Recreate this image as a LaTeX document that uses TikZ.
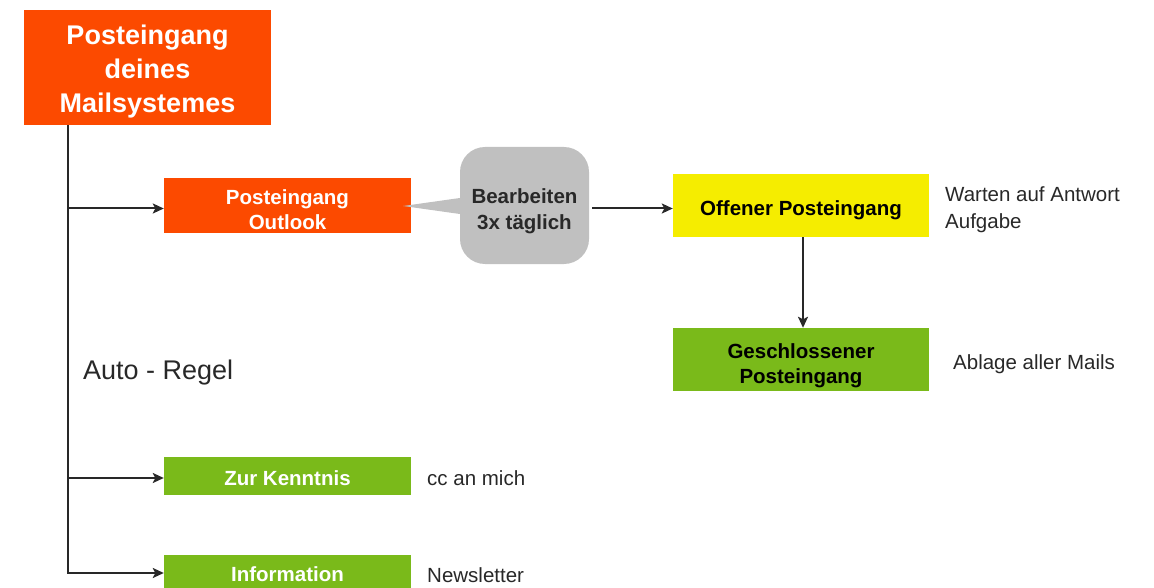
\documentclass[tikz,border=0pt]{standalone}
\usepackage{fontspec}
\setmainfont{Liberation Sans}
\usetikzlibrary{arrows.meta}

\definecolor{mailorange}{RGB}{252,74,0}
\definecolor{mailyellow}{RGB}{245,237,0}
\definecolor{mailgreen}{RGB}{122,186,26}
\definecolor{bubblegray}{RGB}{192,192,192}
\definecolor{inkgray}{RGB}{40,40,40}

\tikzset{
  box/.style={rectangle, inner sep=0pt, align=center, text depth=0pt, font=\fontsize{20.5}{25}\selectfont\bfseries},
  orangebox/.style={box, fill=mailorange, text=white},
  greenbox/.style={box, fill=mailgreen},
  note/.style={anchor=west, inner sep=0pt, text=inkgray, font=\fontsize{20.5}{27}\selectfont},
  arr/.style={draw=inkgray, line width=2pt, -{Stealth[length=11pt,width=10pt,inset=2.5pt]}}
}

\begin{document}
\begin{tikzpicture}[x=1pt, y=-1pt]
\useasboundingbox (0,0) rectangle (1154,588);

\node (main) [orangebox, minimum width=247pt, minimum height=115pt, text height=90pt, font=\fontsize{27}{34}\selectfont\bfseries] at (147.5,67.5) {Posteingang\\deines\\Mailsystemes};
\node (outlook) [orangebox, minimum width=247pt, minimum height=55pt, text height=48pt] at (287.5,205.5) {Posteingang\\Outlook};
\node (kenntnis) [greenbox, text=white, minimum width=247pt, minimum height=38pt, text height=19pt] at (287.5,476) {Zur Kenntnis};
\node (info) [greenbox, text=white, minimum width=247pt, minimum height=34pt, text height=19pt] at (287.5,572) {Information};

% Sprechblase
\node (bubble) [box, fill=bubblegray, text=inkgray, rounded corners=25pt, minimum width=129pt, minimum height=117pt, text height=48pt, font=\fontsize{20.5}{26}\selectfont\bfseries] at (524.5,205.5) {Bearbeiten\\3x täglich};
\fill[bubblegray] ([yshift=7.5pt]bubble.west) -- ([xshift=-8pt,yshift=-0.5pt]outlook.east) -- ([yshift=-8.5pt]bubble.west) -- cycle;

\node (offen) [box, fill=mailyellow, minimum width=256pt, minimum height=63pt, text height=21pt] at (801,205.5) {Offener Posteingang};
\node (geschl) [greenbox, minimum width=256pt, minimum height=63pt, text height=48pt] at (801,359.5) {Geschlossener\\Posteingang};

\coordinate (spine) at ([xshift=44pt]main.south west);
\draw[arr] (spine) |- ([yshift=-3pt]outlook.west);
\draw[arr] (spine) |- ([yshift=-2pt]kenntnis.west);
\draw[arr] (spine) |- ([yshift=-1pt]info.west);
\draw[arr] ([xshift=3pt,yshift=-3pt]bubble.east) -- ([yshift=-3pt]offen.west);
\draw[arr] ([xshift=2pt]offen.south) -- ([xshift=2pt]geschl.north);

\node (warten) [note, align=left] at (945,210) {Warten auf Antwort\\Aufgabe};
\node (ablage) [note] at (953,364) {Ablage aller Mails};
\node (regel) [note, font=\fontsize{27}{32}\selectfont] at (83,373) {Auto - Regel};
\node (cc) [note] at (427,478) {cc an mich};
\node (news) [note] at (427,575) {Newsletter};

\end{tikzpicture}
\end{document}
